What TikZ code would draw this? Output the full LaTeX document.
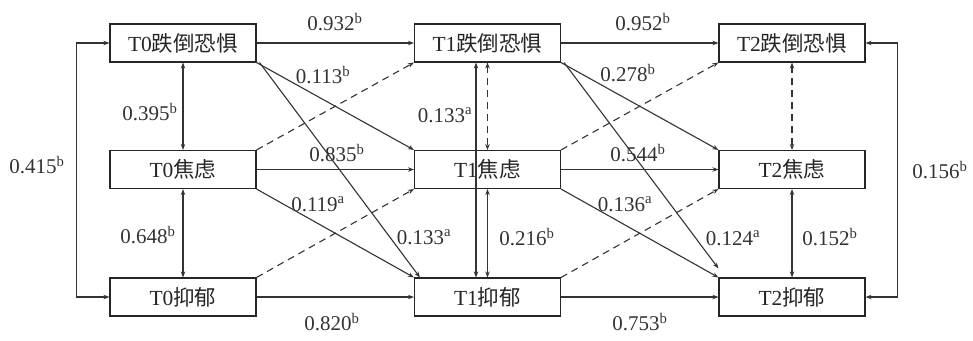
\documentclass[tikz,border=0pt]{standalone}
\usepackage{fontspec}
\setmainfont{Liberation Serif}
\newfontfamily\cjk{Noto Sans CJK SC}
\usetikzlibrary{arrows.meta,calc}
\newcommand\lbl[2]{#1\textsuperscript{#2}}
\tikzset{
  box/.style={draw=black!85, line width=1.1pt, minimum width=146pt, minimum height=38pt, inner sep=0pt, text=black!85, font=\fontsize{21.5}{23}\selectfont},
  conn/.style={draw=black!80, line width=1.1pt, -{Stealth[length=6pt,width=4.5pt]}},
  bconn/.style={draw=black!80, line width=1.1pt, {Stealth[length=6pt,width=4.5pt]}-{Stealth[length=6pt,width=4.5pt]}},
  dsh/.style={dash pattern=on 7pt off 5pt},
  num/.style={text=black!80, inner sep=0pt, font=\fontsize{21}{23}\selectfont}
}
\begin{document}
\begin{tikzpicture}[x=1pt,y=-1pt]
\useasboundingbox (0,0) rectangle (973,340);
% boxes
\node[box] (f0) at (183,43) {T0{\cjk 跌倒恐惧}};
\node[box] (a0) at (183,169.5) {T0{\cjk 焦虑}};
\node[box] (d0) at (183,297) {T0{\cjk 抑郁}};
\node[box] (f1) at (487.5,43) {T1{\cjk 跌倒恐惧}};
\node[box] (a1) at (487.5,169.5) {T1{\cjk 焦虑}};
\node[box] (d1) at (487.5,297) {T1{\cjk 抑郁}};
\node[box] (f2) at (792,43) {T2{\cjk 跌倒恐惧}};
\node[box] (a2) at (792,169.5) {T2{\cjk 焦虑}};
\node[box] (d2) at (792,297) {T2{\cjk 抑郁}};
% horizontal
\draw[conn] (f0) -- (f1);
\draw[conn] (f1) -- (f2);
\draw[conn] (a0) -- (a1);
\draw[conn] (a1) -- (a2);
\draw[conn] (d0) -- (d1);
\draw[conn] (d1) -- (d2);
% verticals T0
\draw[bconn] (f0) -- (a0);
\draw[bconn] (a0) -- (d0);
% verticals T1
\draw[bconn] ($(f1.south)+(-11.5,0)$) -- ($(d1.north)+(-11.5,0)$);
\draw[bconn,dsh] (f1) -- (a1);
\draw[bconn] (a1) -- (d1);
% verticals T2
\draw[bconn,dsh] (f2) -- (a2);
\draw[bconn] (a2) -- (d2);
% feedback loops
\draw[bconn] (f0.west) -- ++(-33,0) |- (d0.west);
\draw[bconn] (f2.east) -- ++(32,0) |- (d2.east);
% diagonals T0 -> T1
\draw[conn] (f0.south east) -- (a1.north west);
\draw[conn] ($(f0.south east)+(3,0)$) -- ($(d1.north west)+(6,0)$);
\draw[conn] (a0.south east) -- (d1.north west);
\draw[conn,dsh] (a0.north east) -- (f1.south west);
\draw[conn,dsh] (d0.north east) -- (a1.south west);
% diagonals T1 -> T2
\draw[conn] (f1.south east) -- (a2.north west);
\draw[conn] ($(f1.south east)+(3,0)$) -- ($(d2.north west)+(0,-9)$);
\draw[conn] (a1.south east) -- (d2.north west);
\draw[conn,dsh] (a1.north east) -- (f2.south west);
\draw[conn,dsh] (d1.north east) -- (a2.south west);
% labels
\node[num] (l1) at (335,22) {\lbl{0.932}{b}};
\node[num] (l2) at (643,22) {\lbl{0.952}{b}};
\node[num] (l3) at (323,75) {\lbl{0.113}{b}};
\node[num] (l4) at (628,73) {\lbl{0.278}{b}};
\node[num] (l5) at (150,112) {\lbl{0.395}{b}};
\node[num] (l6) at (445,115) {\lbl{0.133}{a}};
\node[num] (l7) at (337,153) {\lbl{0.835}{b}};
\node[num] (l8) at (638,153) {\lbl{0.544}{b}};
\node[num] (l9) at (37,165) {\lbl{0.415}{b}};
\node[num] (l10) at (940,170) {\lbl{0.156}{b}};
\node[num] (l11) at (318,204) {\lbl{0.119}{a}};
\node[num] (l12) at (625,204) {\lbl{0.136}{a}};
\node[num] (l13) at (148,235) {\lbl{0.648}{b}};
\node[num] (l14) at (424,237) {\lbl{0.133}{a}};
\node[num] (l15) at (527,237) {\lbl{0.216}{b}};
\node[num] (l16) at (733,238) {\lbl{0.124}{a}};
\node[num] (l17) at (830,237) {\lbl{0.152}{b}};
\node[num] (l18) at (332,322) {\lbl{0.820}{b}};
\node[num] (l19) at (640,322) {\lbl{0.753}{b}};
\end{tikzpicture}
\end{document}
